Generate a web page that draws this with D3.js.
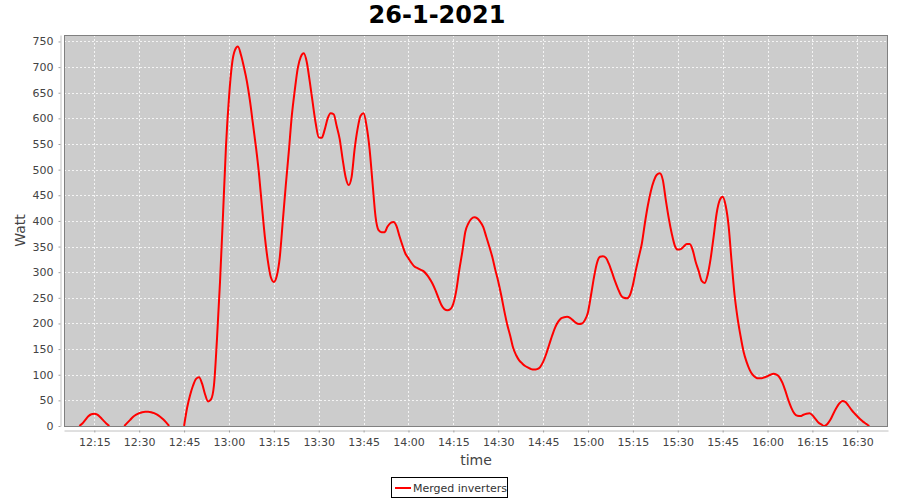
<!DOCTYPE html>
<html>
<head>
<meta charset="utf-8">
<script src="https://cdn.jsdelivr.net/npm/d3@7"></script>
<style>
  html, body { margin: 0; padding: 0; background: #fff; }
  svg { display: block; }
</style>
</head>
<body>
<svg id="chart" width="900" height="500"></svg>
<script>
// ---- Data ----
const chartTitle = "26-1-2021";
const seriesName = "Merged inverters";
const xLabel = "time";
const yLabel = "Watt";

const times = [
  "12:10","12:11","12:12","12:13","12:14","12:15","12:16","12:17","12:18","12:19","12:20",
  "12:21","12:22","12:23","12:24",
  "12:25","12:26","12:27","12:28","12:29","12:30","12:31","12:32","12:33","12:34","12:35","12:36","12:37","12:38","12:39","12:40",
  "12:41","12:42","12:43","12:44",
  "12:45","12:46","12:47","12:48","12:49","12:50","12:51","12:52","12:53","12:54","12:55","12:56","12:57","12:58","12:59",
  "13:00","13:01","13:02","13:03","13:04","13:05","13:06","13:07","13:08","13:09","13:10","13:11","13:12","13:13","13:14",
  "13:15","13:16","13:17","13:18","13:19","13:20","13:21","13:22","13:23","13:24","13:25","13:26","13:27","13:28","13:29",
  "13:30","13:31","13:32","13:33","13:34","13:35","13:36","13:37","13:38","13:39","13:40","13:41","13:42","13:43","13:44",
  "13:45","13:46","13:47","13:48","13:49","13:50","13:51","13:52","13:53","13:54","13:55","13:56","13:57","13:58","13:59",
  "14:00","14:01","14:02","14:03","14:04","14:05","14:06","14:07","14:08","14:09","14:10","14:11","14:12","14:13","14:14",
  "14:15","14:16","14:17","14:18","14:19","14:20","14:21","14:22","14:23","14:24","14:25","14:26","14:27","14:28","14:29",
  "14:30","14:31","14:32","14:33","14:34","14:35","14:36","14:37","14:38","14:39","14:40","14:41","14:42","14:43","14:44",
  "14:45","14:46","14:47","14:48","14:49","14:50","14:51","14:52","14:53","14:54","14:55","14:56","14:57","14:58","14:59",
  "15:00","15:01","15:02","15:03","15:04","15:05","15:06","15:07","15:08","15:09","15:10","15:11","15:12","15:13","15:14",
  "15:15","15:16","15:17","15:18","15:19","15:20","15:21","15:22","15:23","15:24","15:25","15:26","15:27","15:28","15:29",
  "15:30","15:31","15:32","15:33","15:34","15:35","15:36","15:37","15:38","15:39","15:40","15:41","15:42","15:43","15:44",
  "15:45","15:46","15:47","15:48","15:49","15:50","15:51","15:52","15:53","15:54","15:55","15:56","15:57","15:58","15:59",
  "16:00","16:01","16:02","16:03","16:04","16:05","16:06","16:07","16:08","16:09","16:10","16:11","16:12","16:13","16:14",
  "16:15","16:16","16:17","16:18","16:19","16:20","16:21","16:22","16:23","16:24","16:25","16:26","16:27","16:28","16:29",
  "16:30","16:31","16:32","16:33","16:34"
];

const watts = [
  0,5,12,19,23,24,22,17,11,5,0,
  null,null,null,null,
  0,6,12,18,22,25,27,28,28,27,25,22,18,13,7,0,
  null,null,null,null,
  0,35,60,79,92,95,83,62,48,52,80,170,280,410,545,
  640,705,733,740,724,700,672,635,590,545,494,430,369,322,290,
  281,293,330,400,470,535,605,655,698,720,727,710,672,630,590,
  563,562,578,600,610,608,585,560,520,485,470,486,540,580,605,
  610,585,540,473,408,382,378,378,389,396,398,390,370,352,336,
  327,318,311,308,305,302,296,288,278,265,250,236,228,226,228,
  239,265,305,340,379,395,404,407,405,398,388,369,350,330,305,
  282,255,225,198,176,152,138,128,122,117,114,111,110,111,115,
  125,140,158,176,192,203,210,212,213,211,206,201,199,200,207,
  222,255,290,318,330,331,328,316,300,283,268,255,250,249,255,
  275,304,330,356,395,430,458,478,490,493,480,441,405,375,352,
  344,345,350,355,355,343,320,302,283,279,295,327,370,415,440,
  447,430,390,320,255,210,175,145,125,110,100,95,93,93,95,
  97,100,102,100,95,84,68,50,35,24,20,19.5,22,24,25,
  21,14,7,3,0,4,12,24,35,44,49,47,40,32,25,
  19,13,8,4,0
];

const xTickLabels = ["12:15","12:30","12:45","13:00","13:15","13:30","13:45","14:00","14:15",
  "14:30","14:45","15:00","15:15","15:30","15:45","16:00","16:15","16:30"];
const yTicks = [0,50,100,150,200,250,300,350,400,450,500,550,600,650,700,750];
const xDomain = ["12:04:52","16:40:16"];
const yDomain = [0, 762.6];

// ---- Layout ----
const W = 900, H = 500;
const plot = { left: 64, top: 35, right: 888, bottom: 426 };
const font = "'DejaVu Sans', sans-serif";

const parseT = d3.timeParse("%Y-%m-%d %H:%M:%S");
const toDate = s => parseT("2021-01-26 " + (s.length === 5 ? s + ":00" : s));

const data = times.map((t, i) => ({ t: toDate(t), v: watts[i] }));

const x = d3.scaleTime().domain(xDomain.map(toDate)).range([plot.left, plot.right]);
const y = d3.scaleLinear().domain(yDomain).range([plot.bottom, plot.top]);

const svg = d3.select("#chart");

// Title
svg.append("text")
  .attr("x", 437).attr("y", 23)
  .attr("text-anchor", "middle")
  .style("font-family", font).style("font-weight", "bold").style("font-size", "24px")
  .style("fill", "#000")
  .text(chartTitle);

// Plot background
svg.append("rect")
  .attr("x", plot.left).attr("y", plot.top)
  .attr("width", plot.right - plot.left).attr("height", plot.bottom - plot.top)
  .attr("fill", "#cccccc");

// Grid lines
const grid = svg.append("g");
grid.selectAll("line.h").data(yTicks).join("line")
  .attr("x1", plot.left).attr("x2", plot.right)
  .attr("y1", d => Math.round(y(d)) + 0.5).attr("y2", d => Math.round(y(d)) + 0.5)
  .attr("stroke", "#f4f4f4").attr("stroke-width", 1).attr("stroke-dasharray", "2,2");
grid.selectAll("line.v").data(xTickLabels).join("line")
  .attr("x1", d => Math.round(x(toDate(d))) + 0.5).attr("x2", d => Math.round(x(toDate(d))) + 0.5)
  .attr("y1", plot.top).attr("y2", plot.bottom)
  .attr("stroke", "#f4f4f4").attr("stroke-width", 1).attr("stroke-dasharray", "2,2");

// Clip
svg.append("clipPath").attr("id", "clip")
  .append("rect")
  .attr("x", plot.left).attr("y", plot.top)
  .attr("width", plot.right - plot.left).attr("height", plot.bottom - plot.top);

// Series line
const line = d3.line()
  .defined(d => d.v !== null)
  .x(d => x(d.t)).y(d => y(d.v))
  .curve(d3.curveMonotoneX);

svg.append("path")
  .datum(data)
  .attr("clip-path", "url(#clip)")
  .attr("d", line)
  .attr("fill", "none")
  .attr("stroke", "#ff0000")
  .attr("stroke-width", 2)
  .attr("stroke-linejoin", "round");

// Plot border
svg.append("rect")
  .attr("x", plot.left + 0.5).attr("y", plot.top + 0.5)
  .attr("width", plot.right - plot.left - 1).attr("height", plot.bottom - plot.top)
  .attr("fill", "none").attr("stroke", "#808080").attr("stroke-width", 1);

// Y axis
const yAxis = d3.axisLeft(y).tickValues(yTicks).tickSizeInner(2).tickSizeOuter(0).tickPadding(5);
const gy = svg.append("g").attr("transform", `translate(${plot.left - 3.5},0)`).call(yAxis);
gy.select(".domain").attr("stroke", "#c0c0c0");
gy.selectAll(".tick line").attr("stroke", "#a0a0a0");
gy.selectAll(".tick text").style("font-family", font).style("font-size", "11px").style("fill", "#444");

// X axis
const xAxis = d3.axisBottom(x).tickValues(xTickLabels.map(toDate))
  .tickFormat(d3.timeFormat("%H:%M")).tickSizeInner(2).tickSizeOuter(0).tickPadding(6);
const gx = svg.append("g").attr("transform", `translate(0,${plot.bottom + 4.5})`).call(xAxis);
gx.select(".domain").attr("stroke", "#c0c0c0");
gx.selectAll(".tick line").attr("stroke", "#a0a0a0");
gx.selectAll(".tick text").style("font-family", font).style("font-size", "11px").style("fill", "#444");

// Axis labels
svg.append("text")
  .attr("x", (plot.left + plot.right) / 2).attr("y", 465)
  .attr("text-anchor", "middle")
  .style("font-family", font).style("font-size", "14px").style("fill", "#444")
  .text(xLabel);

svg.append("text")
  .attr("transform", `translate(25,${(plot.top + plot.bottom) / 2}) rotate(-90)`)
  .attr("text-anchor", "middle")
  .style("font-family", font).style("font-size", "14px").style("fill", "#444")
  .text(yLabel);

// Legend
const lg = svg.append("g");
lg.append("rect")
  .attr("x", 391.5).attr("y", 477.5).attr("width", 116).attr("height", 20)
  .attr("fill", "#fff").attr("stroke", "#000").attr("stroke-width", 1);
lg.append("line")
  .attr("x1", 395).attr("x2", 411).attr("y1", 488).attr("y2", 488)
  .attr("stroke", "#ff0000").attr("stroke-width", 2);
lg.append("text")
  .attr("x", 413).attr("y", 492)
  .style("font-family", font).style("font-size", "11px").style("fill", "#333")
  .text(seriesName);
</script>
</body>
</html>
